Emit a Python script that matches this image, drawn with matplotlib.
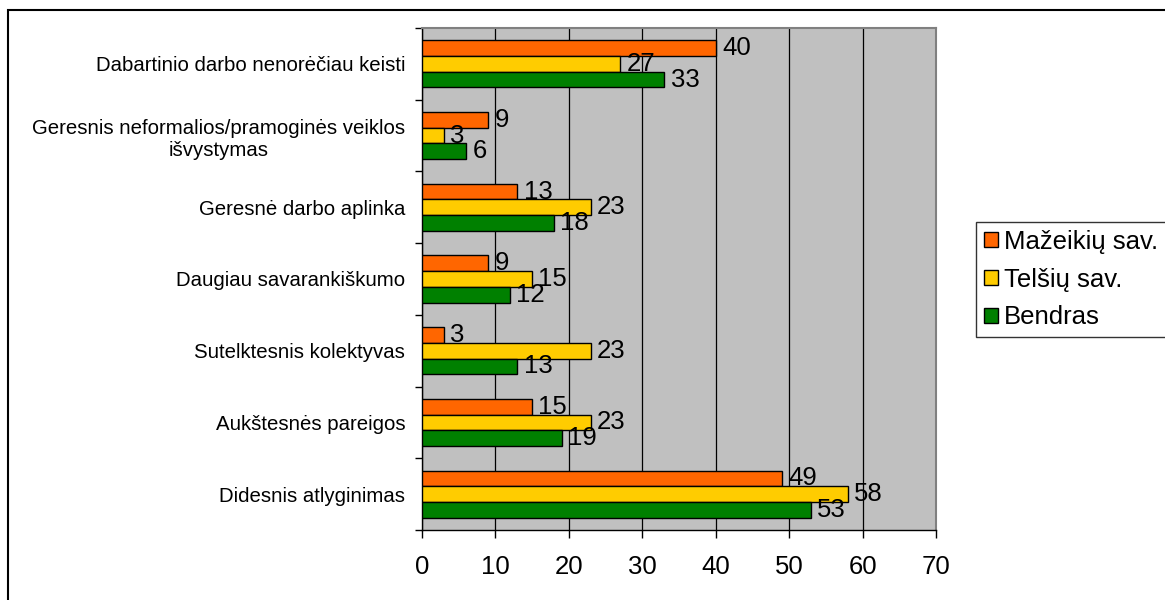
import numpy as np
import matplotlib
matplotlib.use('Agg')
import matplotlib.pyplot as plt
from matplotlib.patches import Rectangle

# === Data (bottom category first) ===
categories = [
    'Didesnis atlyginimas',
    'Aukštesnės pareigos',
    'Sutelktesnis kolektyvas',
    'Daugiau savarankiškumo',
    'Geresnė darbo aplinka',
    'Geresnis neformalios/pramoginės veiklos\nišvystymas',
    'Dabartinio darbo nenorėčiau keisti',
]
series_names = ['Mažeikių sav.', 'Telšių sav.', 'Bendras']
mazeikiai = [49, 15, 3, 9, 13, 9, 40]
telsiai = [58, 23, 23, 15, 23, 3, 27]
bendras = [53, 19, 13, 12, 18, 6, 33]
x_ticks = [0, 10, 20, 30, 40, 50, 60, 70]

COLORS = ['#FF6600', '#FFCC00', '#008000']
BIG = 18.5

plt.rcParams['font.family'] = ['Liberation Sans', 'DejaVu Sans']

W, H = 1165, 600
fig = plt.figure(figsize=(W / 100, H / 100), dpi=100)
ax = fig.add_axes([422 / W, 1 - 530 / H, (936 - 422) / W, (530 - 28) / H])
ax.set_facecolor('#C0C0C0')

y = np.arange(len(categories))
h = 0.219
offsets = [h, 0, -h]
for vals, off, col, name in zip([mazeikiai, telsiai, bendras], offsets, COLORS, series_names):
    bars = ax.barh(y + off, vals, height=h, color=col, edgecolor='black',
                   linewidth=1.0, label=name, zorder=3)
    for b, v in zip(bars, vals):
        ax.annotate(str(v), (b.get_width(), b.get_y() + b.get_height() / 2),
                    xytext=(4.5, 0), textcoords='offset points',
                    ha='left', va='center', fontsize=BIG, zorder=4)

ax.set_xlim(0, 70)
ax.set_ylim(-0.5, len(categories) - 0.5)
ax.set_xticks(x_ticks)
ax.set_xticklabels([str(t) for t in x_ticks], fontsize=BIG)
ax.tick_params(axis='x', direction='out', length=6, width=1, pad=12)

ax.set_yticks(y)
ax.set_yticklabels(categories, fontsize=14.7, multialignment='center')
ax.set_yticks(np.arange(-0.5, len(categories)), minor=True)
ax.tick_params(axis='y', which='major', length=0, pad=12)
ax.tick_params(axis='y', which='minor', direction='out', length=5, width=1)

ax.set_axisbelow(True)
ax.xaxis.grid(True, color='black', linewidth=0.9, zorder=0)
ax.yaxis.grid(False)
for s in ['left', 'bottom']:
    ax.spines[s].set_color('black')
    ax.spines[s].set_linewidth(1.0)
for s in ['top', 'right']:
    ax.spines[s].set_color('#808080')
    ax.spines[s].set_linewidth(1.5)

leg = fig.legend(loc='upper left', bbox_to_anchor=(976 / W, 1 - 222 / H),
                 fontsize=BIG, frameon=True, fancybox=False, edgecolor='black',
                 handlelength=0.55, handleheight=0.55, handletextpad=0.25,
                 labelspacing=0.54, borderpad=0.3, borderaxespad=0)
leg.get_frame().set_linewidth(1.0)

# outer chart frame
fig.patches.append(Rectangle((8 / W, -0.05), 1.2, 1 - 10 / H + 0.05,
                             transform=fig.transFigure, fill=False,
                             edgecolor='black', linewidth=1.5))

fig.savefig('out.png', dpi=100)
